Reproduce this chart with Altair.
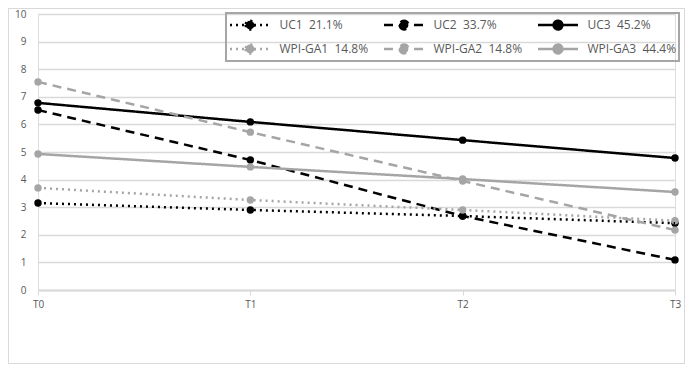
import altair as alt
import pandas as pd

times = ["T0", "T1", "T2", "T3"]
series = ["UC1\u00a0\u00a021.1%", "UC2\u00a0\u00a033.7%", "UC3\u00a0\u00a045.2%",
          "WPI-GA1\u00a0\u00a014.8%", "WPI-GA2\u00a0\u00a014.8%", "WPI-GA3\u00a0\u00a044.4%"]
uc1 = [3.15, 2.90, 2.68, 2.42]
uc2 = [6.52, 4.71, 2.68, 1.09]
uc3 = [6.78, 6.09, 5.43, 4.78]
ga1 = [3.70, 3.26, 2.90, 2.51]
ga2 = [7.54, 5.72, 3.95, 2.17]
ga3 = [4.93, 4.46, 4.02, 3.55]

colors = ["#000000", "#000000", "#000000", "#a5a5a5", "#a5a5a5", "#a5a5a5"]
dashes = [[2, 4], [9, 6], [1, 0], [2, 4], [9, 6], [1, 0]]

rows = []
for name, vals in zip(series, [uc1, uc2, uc3, ga1, ga2, ga3]):
    for t, v in zip(times, vals):
        rows.append({"time": t, "value": v, "series": name})
df = pd.DataFrame(rows)

sym_path = ("M-2.5,0H2.5M-0.55,0A0.55,0.55,0,1,0,0.55,0"
            "A0.55,0.55,0,1,0,-0.55,0Z")

x = alt.X("time:N", scale=alt.Scale(domain=times, type="point", padding=0),
          axis=alt.Axis(title=None, labelAngle=0, domainColor="#d9d9d9", domainWidth=2,
                        tickColor="#d9d9d9", tickSize=5, labelColor="#595959",
                        labelFontSize=10, labelPadding=4, grid=False))
y = alt.Y("value:Q", scale=alt.Scale(domain=[0, 10], nice=False),
          axis=alt.Axis(title=None, values=list(range(0, 11)), domain=False, ticks=False,
                        gridColor="#d9d9d9", gridWidth=1.5, labelColor="#595959",
                        labelFontSize=10, labelPadding=12))
leg = alt.Legend(title=None, orient="none", legendX=188, legendY=-1, direction="horizontal",
                 columns=3, symbolType=sym_path, symbolSize=256, symbolOffset=12,
                 symbolStrokeWidth=2.5, labelFontSize=12,
                 labelColor="#595959", labelOffset=20,
                 columnPadding=10, rowPadding=5, padding=2.5,
                 strokeColor="#a6a6a6", gridAlign="all", labelLimit=140)
color = alt.Color("series:N", scale=alt.Scale(domain=series, range=colors), legend=leg)
dash = alt.StrokeDash("series:N", scale=alt.Scale(domain=series, range=dashes), legend=leg)

points = alt.Chart(df).mark_point(filled=True, size=55, opacity=1).encode(
    x=x, y=y, color=color)
lines = alt.Chart(df).mark_line(strokeWidth=2.5).encode(x=x, y=y, color=color, strokeDash=dash)

frame = alt.Chart(df).mark_rect(fill=None, stroke="#d9d9d9", strokeWidth=1, clip=False).encode(
    x=alt.value(-29.5), x2=alt.value(646.5), y=alt.value(-5.5), y2=alt.value(349.5))

chart = alt.layer(points, lines, frame).properties(
    width=637, height=276,
    autosize=alt.AutoSizeParams(type="none"),
    padding={"left": 30, "top": 6, "right": 10, "bottom": 74},
    background="white",
).configure_view(stroke=None).configure(font="Open Sans").configure_legend(strokeWidth=2)

chart.save("out.html", embed_options={"renderer": "svg", "actions": False})
